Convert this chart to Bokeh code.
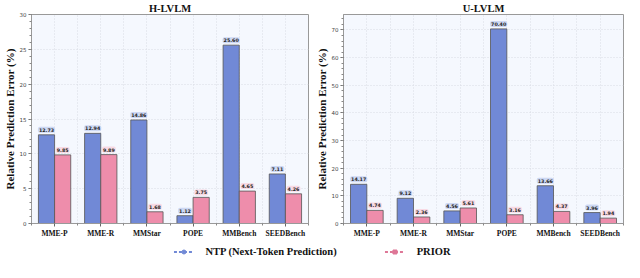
from bokeh.plotting import figure
from bokeh.models import ColumnDataSource, Range1d, FixedTicker, Legend, LegendItem
from bokeh.layouts import column, row
from bokeh.embed import file_html
from bokeh.resources import INLINE
from bokeh.core.properties import value

categories = ["MME-P", "MME-R", "MMStar", "POPE", "MMBench", "SEEDBench"]
h_ntp = [12.73, 12.94, 14.86, 1.12, 25.60, 7.11]
h_prior = [9.85, 9.89, 1.68, 3.75, 4.65, 4.26]
u_ntp = [14.17, 9.12, 4.56, 70.40, 13.66, 3.96]
u_prior = [4.74, 2.36, 5.61, 3.16, 4.37, 1.94]

BLUE = "#7189d6"
PINK = "#ee8dab"
BLUE_BOX = "#c9d4f2"
PINK_BOX = "#f8d6e1"
SERIF = "Liberation Serif"
SANS = "DejaVu Sans"
W = 0.35


def panel(title, ntp, prior, ymax, yticks, width, right_border):
    p = figure(width=width, height=240, output_backend="svg", toolbar_location=None,
               x_range=Range1d(-0.5, 5.5), y_range=Range1d(0, ymax),
               min_border_left=0, min_border_right=right_border, min_border_top=0,
               min_border_bottom=0, background_fill_color="#f5f8fe",
               outline_line_color="#999999", outline_line_width=1)
    p.title.text = title
    p.title.align = "center"
    p.title.text_font = SERIF
    p.title.text_font_size = "10.5px"
    p.title.text_font_style = "bold"
    p.title.text_color = "#111111"
    p.title.standoff = 1

    xs = list(range(len(categories)))
    src = ColumnDataSource(dict(
        x_n=[x - W / 2 for x in xs], x_p=[x + W / 2 for x in xs],
        ntp=ntp, prior=prior,
        ntp_lbl=["%.2f" % v for v in ntp], prior_lbl=["%.2f" % v for v in prior]))
    p.vbar(x="x_n", top="ntp", width=W, source=src, fill_color=BLUE,
           line_color="#555555", line_width=0.8)
    p.vbar(x="x_p", top="prior", width=W, source=src, fill_color=PINK,
           line_color="#555555", line_width=0.8)
    for xcol, ycol, lcol, box in (("x_n", "ntp", "ntp_lbl", BLUE_BOX),
                                  ("x_p", "prior", "prior_lbl", PINK_BOX)):
        p.text(x=xcol, y=ycol, text=lcol, source=src, y_offset=-5,
               text_align="center", text_baseline="middle",
               text_font=value(SANS), text_font_size="4.8px", text_font_style="bold",
               text_color="#222222", background_fill_color=box,
               background_fill_alpha=0.9, border_radius=2, padding=1)

    p.xaxis.ticker = FixedTicker(ticks=xs, minor_ticks=[x + 0.5 for x in range(-1, 6)])
    p.xaxis.major_label_overrides = {i: c for i, c in enumerate(categories)}
    p.xaxis.major_label_text_font = SERIF
    p.xaxis.major_label_text_font_style = "bold"
    p.xaxis.major_label_text_font_size = "7.5px"
    p.xaxis.major_label_text_color = "#111111"
    p.xaxis.major_label_standoff = 2
    step = yticks[1] - yticks[0]
    p.yaxis.ticker = FixedTicker(ticks=yticks,
                                 minor_ticks=[k * step / 5 for k in range(0, int(ymax / step * 5) + 1)])
    p.yaxis.major_label_text_font = SANS
    p.yaxis.major_label_text_font_size = "5.5px"
    p.yaxis.major_label_text_color = "#444444"
    p.yaxis.major_label_standoff = 2
    p.yaxis.axis_label = "Relative Prediction Error (%)"
    p.yaxis.axis_label_text_font = SERIF
    p.yaxis.axis_label_text_font_size = "11px"
    p.yaxis.axis_label_text_font_style = "bold"
    p.yaxis.axis_label_text_color = "#111111"
    p.yaxis.axis_label_standoff = 1
    for ax in (p.xaxis, p.yaxis):
        ax.axis_line_color = "#999999"
        ax.major_tick_line_color = "#666666"
        ax.minor_tick_line_color = "#888888"
        ax.major_tick_out = 3
        ax.major_tick_in = 0
        ax.minor_tick_out = 2
        ax.minor_tick_in = 0
    p.xgrid.ticker = FixedTicker(ticks=[x * 0.5 for x in range(-1, 12)])
    p.xgrid.grid_line_color = "#d8dce4"
    p.xgrid.grid_line_dash = "1 2"
    p.ygrid.grid_line_color = "#d8dce4"
    p.ygrid.grid_line_dash = "1 2"
    return p


p1 = panel("H-LVLM", h_ntp, h_prior, 30, [0, 5, 10, 15, 20, 25, 30], 312, 4)
p2 = panel("U-LVLM", u_ntp, u_prior, 75.6, [0, 10, 20, 30, 40, 50, 60, 70], 312, 1)

leg = figure(width=624, height=22, output_backend="svg", toolbar_location=None,
             x_range=Range1d(0, 1), y_range=Range1d(0, 1), min_border=0,
             outline_line_color=None)
leg.axis.visible = False
leg.grid.visible = False
hidden = ColumnDataSource(dict(x=[-5.0], y=[-5.0]))
l1 = leg.line("x", "y", source=hidden, line_color=BLUE, line_width=2, line_dash="3 2")
s1 = leg.scatter("x", "y", source=hidden, marker="circle", size=5, fill_color=BLUE, line_color=BLUE)
l2 = leg.line("x", "y", source=hidden, line_color="#de7797", line_width=2, line_dash="3 2")
s2 = leg.scatter("x", "y", source=hidden, marker="square", size=5, fill_color="#de7797", line_color="#de7797")
legend = Legend(items=[LegendItem(label="NTP (Next-Token Prediction)", renderers=[l1, s1]),
                       LegendItem(label="PRIOR", renderers=[l2, s2])],
                orientation="horizontal", location="center", spacing=48,
                glyph_width=20, glyph_height=10, label_standoff=12,
                label_text_font=SERIF, label_text_font_size="10.5px",
                label_text_font_style="bold", label_text_color="#111111",
                border_line_color=None, background_fill_alpha=0, padding=2, margin=0)
leg.add_layout(legend, "center")

layout = column(row(p1, p2), leg)
open("out.html", "w").write(file_html(layout, INLINE))
